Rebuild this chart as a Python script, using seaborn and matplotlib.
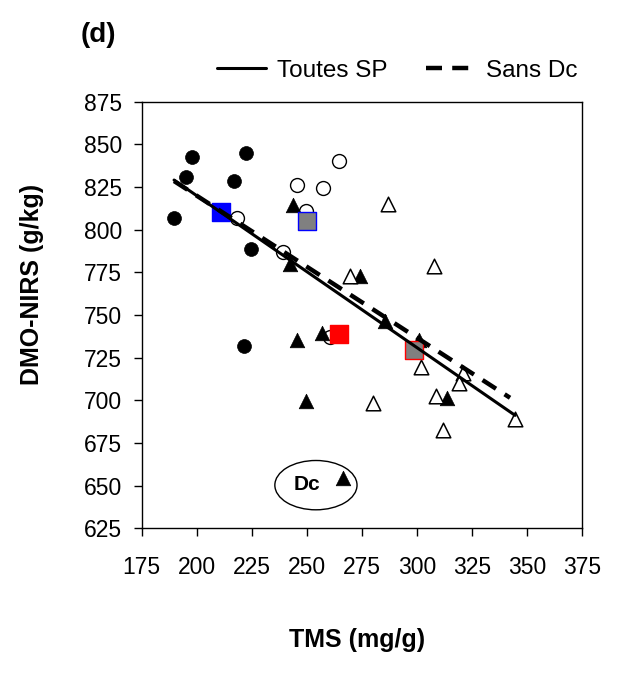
import matplotlib
matplotlib.use("Agg")
import matplotlib.pyplot as plt
from matplotlib.patches import Ellipse
import seaborn as sns
import pandas as pd

# points (TMS mg/g, DMO-NIRS g/kg)
circ_fill_x = [197.7, 222.5, 195.1, 217.0, 189.7, 224.5, 221.3]
circ_fill_y = [842.8, 845.1, 830.9, 828.5, 806.7, 788.5, 731.8]
circ_open_x = [264.6, 245.6, 257.2, 249.6, 218.4, 239.0, 260.5]
circ_open_y = [840.2, 826.2, 824.6, 811.1, 806.8, 787.1, 736.9]
tri_fill_x = [243.9, 242.3, 274.1, 285.4, 245.4, 256.7, 300.9, 249.6, 313.4, 266.2]
tri_fill_y = [814.2, 779.7, 772.6, 746.5, 735.3, 739.6, 735.3, 699.6, 701.2, 654.6]
tri_open_x = [286.7, 307.5, 269.6, 301.9, 321.0, 319.0, 308.5, 280.0, 344.5, 311.6]
tri_open_y = [814.9, 778.8, 772.6, 719.7, 715.8, 710.0, 702.7, 698.7, 689.2, 682.6]

# moyennes (carres)
moy_x = [211.0, 249.9, 264.6, 298.5]
moy_y = [810.4, 805.1, 739.0, 729.3]
moy_face = ['#0000FF', '#808080', '#FF0000', '#808080']
moy_edge = ['#0000FF', '#0000FF', '#FF0000', '#FF0000']

# droites de regression
toutes_x = [189.7, 344.5]
toutes_y = [829.1, 691.2]
sans_x = [189.7, 342.2]
sans_y = [828.5, 701.5]

x_ticks = [175, 200, 225, 250, 275, 300, 325, 350, 375]
y_ticks = [625, 650, 675, 700, 725, 750, 775, 800, 825, 850, 875]

sns.set_style("ticks")
plt.rcParams['font.family'] = ['Liberation Sans', 'DejaVu Sans']
for k in ['text.color', 'axes.labelcolor', 'xtick.color', 'ytick.color', 'axes.edgecolor']:
    plt.rcParams[k] = 'black'

fig = plt.figure(figsize=(6.2, 6.75), dpi=100)
ax = fig.add_axes([0.2285, 0.2173, 0.7107, 0.632])

sns.scatterplot(x=circ_fill_x, y=circ_fill_y, ax=ax, marker='o', s=100,
                color='black', edgecolor='black', linewidth=0.5, zorder=3)
sns.scatterplot(x=circ_open_x, y=circ_open_y, ax=ax, marker='o', s=100,
                color='white', edgecolor='black', linewidth=1.0, zorder=3)
sns.scatterplot(x=tri_fill_x, y=tri_fill_y, ax=ax, marker='^', s=110,
                color='black', edgecolor='black', linewidth=0.5, zorder=4)
sns.scatterplot(x=tri_open_x, y=tri_open_y, ax=ax, marker='^', s=110,
                color='white', edgecolor='black', linewidth=1.1, zorder=4)

df_moy = pd.DataFrame({'x': moy_x, 'y': moy_y})
for i in range(len(df_moy)):
    sns.scatterplot(x=[df_moy.x[i]], y=[df_moy.y[i]], ax=ax, marker='s', s=185,
                    color=moy_face[i], edgecolor=moy_edge[i], linewidth=1.0, zorder=5)

sns.lineplot(x=toutes_x, y=toutes_y, ax=ax, color='black', linewidth=2.2,
             label='Toutes SP', zorder=6)
sns.lineplot(x=sans_x, y=sans_y, ax=ax, color='black', linewidth=3.2,
             label='Sans Dc', zorder=6)
ax.lines[1].set_dashes([3.6, 2.3])

# ellipse Dc
ax.add_patch(Ellipse((254.1, 650.3), 37.3, 28.9, facecolor='none',
                     edgecolor='black', linewidth=1.0, zorder=2))
ax.text(249.9, 650.5, 'Dc', fontsize=15, fontweight='bold', ha='center', va='center')

ax.set_xlim(175, 375)
ax.set_ylim(625, 875)
ax.set_xticks(x_ticks)
ax.set_yticks(y_ticks)
ax.tick_params(axis='x', direction='out', length=6, width=1, pad=14, labelsize=16.5)
ax.tick_params(axis='y', direction='out', length=6, width=1, pad=8, labelsize=16.5)
for sp in ax.spines.values():
    sp.set_visible(True)
    sp.set_linewidth(1.0)
    sp.set_color('black')

ax.set_xlabel('TMS (mg/g)', fontsize=18, fontweight='bold')
ax.xaxis.set_label_coords(0.488, -0.262)
ax.xaxis.label.set_va('center')
ax.set_ylabel('DMO-NIRS (g/kg)', fontsize=18, fontweight='bold')
ax.yaxis.set_label_coords(-0.249, 0.5715)
ax.yaxis.label.set_va('center')

fig.text(0.158, 0.948, '(d)', fontsize=20, fontweight='bold', ha='center', va='center')

ax.legend(loc='center left', bbox_to_anchor=(0.35, 0.895), bbox_transform=fig.transFigure,
          ncol=2, frameon=False, fontsize=17.5, handlelength=2.0, handletextpad=0.47,
          columnspacing=1.6, borderpad=0, borderaxespad=0)

fig.savefig('out.png', dpi=100)
